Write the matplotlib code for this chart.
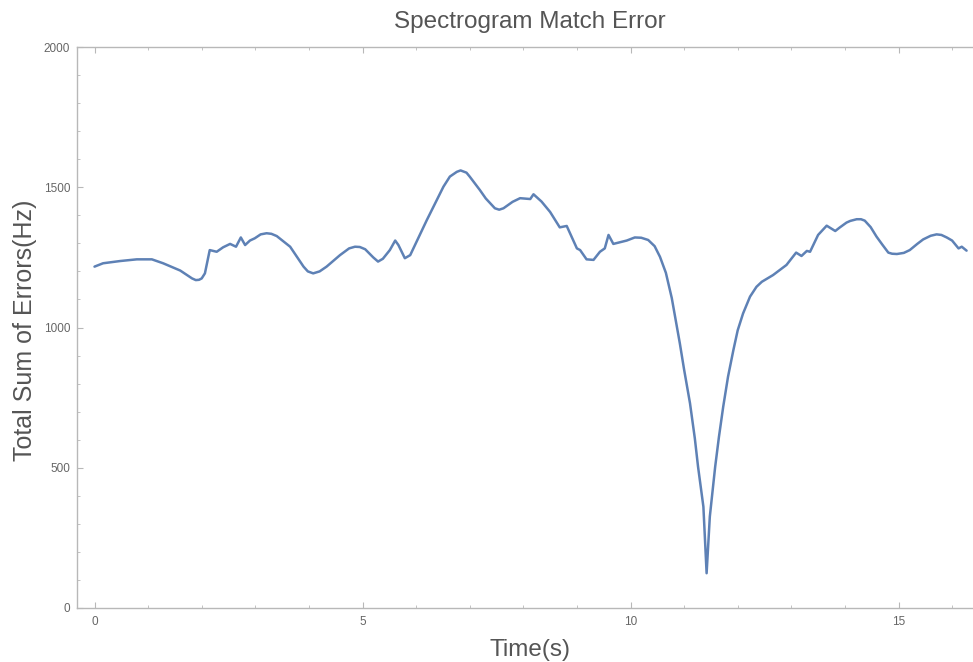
import matplotlib
matplotlib.use("Agg")
import matplotlib.pyplot as plt
from matplotlib.ticker import MultipleLocator

plt.rcParams['font.family'] = ['Liberation Sans', 'DejaVu Sans']

time_s = [0.00, 0.16, 0.48, 0.79, 1.07, 1.28, 1.60, 1.75, 1.82, 1.89, 1.95, 2.00,
          2.06, 2.15, 2.28, 2.40, 2.53, 2.64, 2.73, 2.81, 2.90, 2.99, 3.10, 3.21,
          3.30, 3.40, 3.65, 3.90, 3.98, 4.08, 4.20, 4.33, 4.58, 4.75, 4.86, 4.95,
          5.05, 5.20, 5.29, 5.38, 5.51, 5.61, 5.67, 5.79, 5.89, 6.20, 6.51, 6.63,
          6.76, 6.83, 6.94, 7.00, 7.19, 7.30, 7.47, 7.55, 7.63, 7.80, 7.94, 8.13,
          8.19, 8.34, 8.50, 8.68, 8.81, 9.00, 9.06, 9.18, 9.31, 9.43, 9.52, 9.59,
          9.68, 9.93, 10.08, 10.20, 10.33, 10.45, 10.55, 10.66, 10.77, 10.92, 11.00,
          11.11, 11.20, 11.26, 11.36, 11.42, 11.48, 11.58, 11.65, 11.73, 11.82, 11.92,
          12.00, 12.10, 12.23, 12.35, 12.45, 12.66, 12.91, 13.09, 13.19, 13.29, 13.35,
          13.50, 13.66, 13.82, 13.90, 14.03, 14.10, 14.22, 14.30, 14.37, 14.48, 14.59,
          14.70, 14.81, 14.88, 14.97, 15.10, 15.21, 15.35, 15.46, 15.60, 15.71, 15.80,
          15.90, 16.00, 16.12, 16.18, 16.27]
error_hz = [1217, 1229, 1237, 1243, 1243, 1229, 1203, 1184, 1175, 1169, 1170, 1175,
            1193, 1276, 1270, 1286, 1298, 1288, 1321, 1294, 1310, 1318, 1332, 1336,
            1334, 1326, 1288, 1217, 1200, 1193, 1200, 1217, 1258, 1282, 1288, 1287,
            1279, 1250, 1235, 1245, 1276, 1310, 1294, 1247, 1258, 1383, 1502, 1538,
            1555, 1560, 1552, 1538, 1490, 1460, 1425, 1420, 1425, 1448, 1461, 1458,
            1475, 1449, 1412, 1357, 1362, 1282, 1276, 1243, 1241, 1270, 1282, 1330,
            1298, 1310, 1321, 1320, 1312, 1290, 1252, 1195, 1105, 944, 850,
            730, 605, 504, 361, 124, 326, 504, 610, 718, 825, 920,
            990, 1050, 1110, 1145, 1163, 1187, 1223, 1267, 1255, 1273, 1270,
            1330, 1363, 1344, 1356, 1374, 1380, 1386, 1386, 1381, 1358, 1324,
            1295, 1267, 1263, 1262, 1266, 1276, 1298, 1314, 1327, 1332, 1330,
            1321, 1310, 1282, 1288, 1274]

x_major = [0, 5, 10, 15]
y_major = [0, 500, 1000, 1500, 2000]

W, H = 973, 662
fig = plt.figure(figsize=(W / 100, H / 100), dpi=100)
ax_left, ax_right = 77, 990
ax_top, ax_bot = 47, 608
ax = fig.add_axes([ax_left / W, 1 - ax_bot / H, (ax_right - ax_left) / W, (ax_bot - ax_top) / H])

px_per_unit = 53.6
x0_px = 94.5
ax.set_xlim((ax_left - x0_px) / px_per_unit, (ax_right - x0_px) / px_per_unit)
ax.set_ylim(0, 2000)

ax.plot(time_s, error_hz, color='#5E81B5', lw=1.8, solid_joinstyle='round', solid_capstyle='round')

frame_c = '#b8b8b8'
for s in ['left', 'top', 'bottom']:
    ax.spines[s].set_color(frame_c)
    ax.spines[s].set_linewidth(1.0)
ax.spines['right'].set_visible(False)

ax.set_xticks(x_major)
ax.set_yticks(y_major)
ax.xaxis.set_minor_locator(MultipleLocator(1))
ax.yaxis.set_minor_locator(MultipleLocator(100))
ax.tick_params(axis='x', which='both', direction='in', top=True, bottom=True, color=frame_c,
               labelsize=8.5, labelcolor='#666666', pad=6)
ax.tick_params(axis='y', which='both', direction='in', left=True, right=False, color=frame_c,
               labelsize=8.5, labelcolor='#666666', pad=5)
ax.tick_params(which='major', length=4, width=0.8)
ax.tick_params(which='minor', length=2.5, width=0.6)

fig.text(530 / W, 1 - 22 / H, 'Spectrogram Match Error', ha='center', va='center',
         fontsize=17.5, color='#555555')
fig.text(530 / W, 1 - 650 / H, 'Time(s)', ha='center', va='center',
         fontsize=17.5, color='#555555')
fig.text(25 / W, 1 - 330 / H, 'Total Sum of Errors(Hz)', ha='center', va='center',
         rotation=90, fontsize=18, color='#555555')

fig.savefig('out.png', dpi=100)
